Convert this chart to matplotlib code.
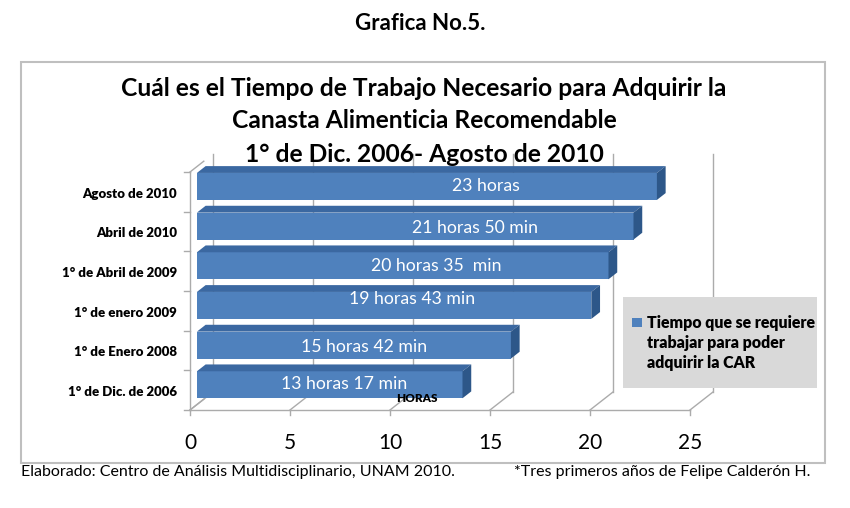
import matplotlib.pyplot as plt
from matplotlib.patches import Polygon, Rectangle

plt.rcParams['font.family'] = ['Lato', 'DejaVu Sans']

# Data
categories = ['1° de Dic. de 2006', '1° de Enero 2008', '1° de enero 2009',
              '1° de Abril de 2009', 'Abril de 2010', 'Agosto de 2010']
hours = [13.28, 15.70, 19.72, 20.58, 21.83, 23.0]
bar_labels = ['13 horas 17 min', '15 horas 42 min', '19 horas 43 min',
              '20 horas 35  min', '21 horas 50 min', '23 horas']
ticks = [0, 5, 10, 15, 20, 25]

# layout of the hand-placed data labels (x in hours, y nudge in rows)
label_x = [7.7, 8.7, 11.1, 12.3, 14.25, 14.8]
label_dy = [0.03, -0.05, 0.15, 0.0, -0.05, 0.0]

W, H = 850, 508
fig = plt.figure(figsize=(W / 100, H / 100), dpi=100)


def fx(px):
    return px / W


def fy(py):
    return 1 - py / H


# outer chart frame
fig.patches.append(Rectangle((fx(21), fy(463)), fx(825) - fx(21), fy(62) - fy(463),
                             transform=fig.transFigure, facecolor='white',
                             edgecolor='#BFBFBF', lw=1.5, zorder=-2))

# plotting area: front floor from px 190..690, y from 410 (floor) to 172 (top)
ax = fig.add_axes([fx(190), fy(410), fx(690) - fx(190), fy(172) - fy(410)])
ax.set_xlim(0, 25)
ax.set_ylim(-0.5, 5.5)
ax.axis('off')
ax.patch.set_alpha(0)

# depth of the 3D box in data units (23 px right, 18 px up)
DX, DY = 23 / 20, 18 / 39.67


def proj(x, y, f):
    return (x + DX * f, y + DY * f)


grid_col = '#ABABAB'
# back wall grid lines and floor diagonals
for v in ticks:
    x0, y0 = proj(v, -0.5, 1)
    x1, y1 = proj(v, 5.5, 1)
    ax.plot([x0, x1], [y0, y1], color=grid_col, lw=1, zorder=1, clip_on=False)
    xa, ya = proj(v, -0.5, 0)
    ax.plot([xa, x0], [ya, y0], color=grid_col, lw=1, zorder=1, clip_on=False)
    ax.plot([v, v], [-0.5, -0.63], color=grid_col, lw=1, zorder=1, clip_on=False)

# front floor edge
ax.plot([0, 25], [-0.5, -0.5], color=grid_col, lw=1, zorder=1, clip_on=False)
# left wall
ax.plot([0, 0], [-0.5, 5.5], color=grid_col, lw=1, zorder=1, clip_on=False)
for k in range(7):
    yb = -0.5 + k
    ax.plot([-0.28, 0], [yb, yb], color=grid_col, lw=1, zorder=1, clip_on=False)
for yb in (-0.5, 5.5):
    xe, ye = proj(0, yb, 0.6)
    ax.plot([0, xe], [yb, ye], color=grid_col, lw=1, zorder=1, clip_on=False)

# 3D bars
f0, f1 = 0.3, 0.68
bh = 0.68
front_col, top_col, side_col = '#4F81BD', '#3B68A1', '#2D5789'
for i, v in enumerate(hours):
    xl, yc = proj(0, i, f0)
    ax.barh(yc, v, height=bh, left=xl, color=front_col, edgecolor='none',
            zorder=3, clip_on=False)
    yt, yb = i + bh / 2, i - bh / 2
    top = [proj(0, yt, f0), proj(v, yt, f0), proj(v, yt, f1), proj(0, yt, f1)]
    ax.add_patch(Polygon(top, closed=True, facecolor=top_col,
                         edgecolor='none', zorder=3, clip_on=False))
    side = [proj(v, yb, f0), proj(v, yt, f0), proj(v, yt, f1), proj(v, yb, f1)]
    ax.add_patch(Polygon(side, closed=True, facecolor=side_col,
                         edgecolor='none', zorder=3, clip_on=False))
    ax.text(label_x[i], yc + label_dy[i], bar_labels[i], color='white', fontsize=12.7,
            ha='center', va='center', zorder=5)

# category labels
for i, c in enumerate(categories):
    ax.text(-0.65, i - 0.05, c, ha='right', va='center', fontsize=9.5,
            fontweight='heavy', clip_on=False)

# x tick labels
for v in ticks:
    ax.text(v, -1.33, str(v), ha='center', va='center', fontsize=15, clip_on=False)

ax.text(11.35, -0.2, 'HORAS', ha='center', va='center', fontsize=8.5,
        fontweight='heavy', zorder=6)

# legend
fig.patches.append(Rectangle((fx(623), fy(388)), fx(817) - fx(623), fy(297) - fy(388),
                             transform=fig.transFigure, facecolor='#D9D9D9',
                             edgecolor='none', zorder=1))
fig.patches.append(Rectangle((fx(632), fy(327)), fx(642) - fx(632), fy(318) - fy(327),
                             transform=fig.transFigure, facecolor=front_col,
                             edgecolor='none', zorder=2))
for k, line in enumerate(['Tiempo que se requiere', 'trabajar para poder',
                          'adquirir la CAR']):
    fig.text(fx(647), fy(323 + 20 * k), line, ha='left', va='center',
             fontsize=11.4, fontweight='heavy')

# titles
fig.text(fx(420), fy(23), 'Grafica No.5.', ha='center', va='center',
         fontsize=16, fontweight='bold')
title_lines = ['Cuál es el Tiempo de Trabajo Necesario para Adquirir la',
               'Canasta Alimenticia Recomendable',
               '1° de Dic. 2006- Agosto de 2010']
for k, line in enumerate(title_lines):
    fig.text(fx(424), fy(88 + 33 * k), line, ha='center', va='center',
             fontsize=17.7, fontweight='bold')

# footer
fig.text(fx(21), fy(472), 'Elaborado: Centro de Análisis Multidisciplinario, UNAM 2010.',
         ha='left', va='center', fontsize=11.5)
fig.text(fx(514), fy(472), '*Tres primeros años de Felipe Calderón H.',
         ha='left', va='center', fontsize=11.5)

plt.savefig('out.png', dpi=100)
